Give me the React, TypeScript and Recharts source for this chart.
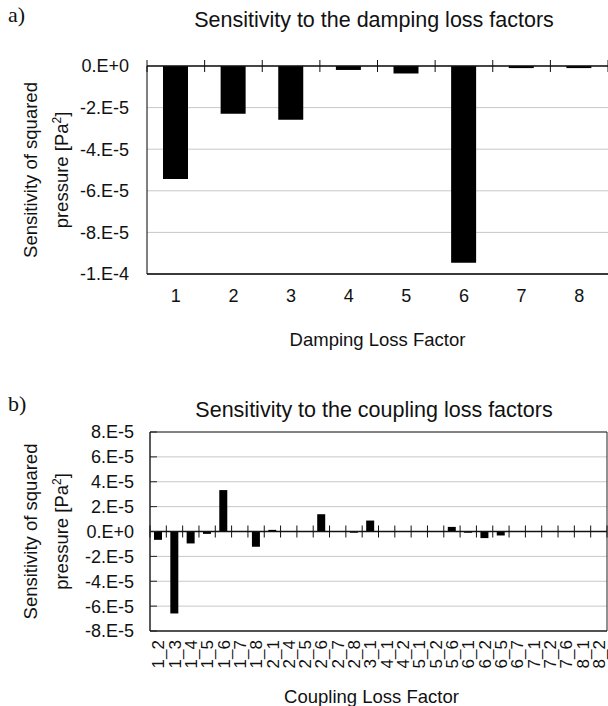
import { Bar, BarChart, CartesianGrid, ReferenceArea, ReferenceLine, XAxis, YAxis } from "recharts";

const FONT = "'Liberation Sans', Arial, sans-serif";
const SERIF = "'Liberation Serif', 'Times New Roman', serif";

// a) damping loss factors
const dampingFactors = ["1", "2", "3", "4", "5", "6", "7", "8"];
const dampingSensitivity = [-5.43e-5, -2.3e-5, -2.59e-5, -0.19e-5, -0.36e-5, -9.46e-5, -0.1e-5, -0.1e-5];
const dampingTicks = [0, -2e-5, -4e-5, -6e-5, -8e-5, -1e-4];

// b) coupling loss factors
const couplingFactors = [
  "1_2", "1_3", "1_4", "1_5", "1_6", "1_7", "1_8",
  "2_1", "2_4", "2_5", "2_6", "2_7", "2_8",
  "3_1", "4_1", "4_2", "5_1", "5_2", "5_6",
  "6_1", "6_2", "6_5", "6_7", "7_1", "7_2", "7_6", "8_1", "8_2",
];
const couplingSensitivity = [
  -0.67e-5, -6.59e-5, -0.96e-5, -0.19e-5, 3.33e-5, 0, -1.23e-5,
  0.13e-5, 0, 0, 1.39e-5, 0, -0.1e-5,
  0.88e-5, 0, 0, 0, 0, 0.37e-5,
  -0.1e-5, -0.53e-5, -0.32e-5, 0, 0, 0, 0, 0, 0,
];
const couplingTicks = [8e-5, 6e-5, 4e-5, 2e-5, 0, -2e-5, -4e-5, -6e-5, -8e-5];

const dampingData = dampingFactors.map((name, i) => ({ name, value: dampingSensitivity[i] }));
const couplingData = couplingFactors.map((name, i) => ({ name, value: couplingSensitivity[i] }));

// excel style "0.E+0"
function sci(v: number) {
  if (v === 0) return "0.E+0";
  const exp = Math.floor(Math.log10(Math.abs(v)) + 1e-9);
  const m = Math.round(v / Math.pow(10, exp));
  return `${m}.E${exp < 0 ? "-" : "+"}${Math.abs(exp)}`;
}

// zero line with tick marks at the category boundaries
const zeroLine = (count: number) => (props: any) => {
  const { x1, x2, y1 } = props;
  const step = (x2 - x1) / count;
  return (
    <g>
      <line x1={x1} x2={x2} y1={y1} y2={y1} stroke="#111" strokeWidth={1.5} />
      {Array.from({ length: count + 1 }, (_, i) => (
        <line key={i} x1={x1 + i * step} x2={x1 + i * step} y1={y1 - 6} y2={y1 + 6} stroke="#111" strokeWidth={1} />
      ))}
    </g>
  );
};

function yTitle(props: any) {
  const { viewBox } = props;
  const cy = viewBox.y + viewBox.height / 2;
  return (
    <g fontFamily={FONT} fontSize={18.5} fill="#111">
      <text x={37} y={cy} transform={`rotate(-90 37 ${cy})`} textAnchor="middle">
        Sensitivity of squared
      </text>
      <text x={68} y={cy} transform={`rotate(-90 68 ${cy})`} textAnchor="middle">
        pressure [Pa<tspan dy={-7} fontSize={12}>2</tspan>
        <tspan dy={7}>]</tspan>
      </text>
    </g>
  );
}

const xTitle = (text: string, dy: number, dx = 0) => (props: any) => {
  const { viewBox } = props;
  return (
    <text
      x={viewBox.x + viewBox.width / 2 + dx}
      y={viewBox.y + dy}
      textAnchor="middle"
      fontFamily={FONT}
      fontSize={18.5}
      fill="#111"
    >
      {text}
    </text>
  );
};

function RotatedTick(props: any) {
  const { x, y, payload } = props;
  return (
    <text
      x={x}
      y={y}
      transform={`rotate(-90 ${x} ${y})`}
      textAnchor="end"
      dy="0.36em"
      fontFamily={FONT}
      fontSize={17}
      fill="#111"
    >
      {payload.value}
    </text>
  );
}

export default function App() {
  return (
    <div style={{ position: "absolute", left: 0, top: 0, width: 608, height: 706, background: "#fff" }}>
      <svg width={608} height={706} style={{ position: "absolute", left: 0, top: 0 }}>
        <text x={8} y={22} fontFamily={SERIF} fontSize={22} fill="#111">a)</text>
        <text x={374} y={27} textAnchor="middle" fontFamily={FONT} fontSize={21.5} fill="#111">
          Sensitivity to the damping loss factors
        </text>
        <text x={8} y={411} fontFamily={SERIF} fontSize={22} fill="#111">b)</text>
        <text x={374} y={417} textAnchor="middle" fontFamily={FONT} fontSize={21.5} fill="#111">
          Sensitivity to the coupling loss factors
        </text>
      </svg>

      <div style={{ position: "absolute", left: 0, top: 0 }}>
        <BarChart width={608} height={360} data={dampingData} margin={{ top: 66, right: 0, bottom: 0, left: 0 }}>
          <CartesianGrid vertical={false} stroke="#c8c8c8" />
          <XAxis
            dataKey="name"
            height={86}
            tickLine={false}
            tickSize={0}
            tickMargin={15}
            axisLine={{ stroke: "#000", strokeWidth: 1.5 }}
            tick={{ fontSize: 18, fill: "#111", fontFamily: FONT }}
            label={xTitle("Damping Loss Factor", 72)}
          />
          <YAxis
            width={147}
            domain={[-1e-4, 0]}
            ticks={dampingTicks}
            interval={0}
            tickFormatter={sci}
            tickLine={false}
            tickSize={0}
            tickMargin={18}
            axisLine={{ stroke: "#000" }}
            tick={{ fontSize: 18, fill: "#111", fontFamily: FONT }}
            label={yTitle}
          />
          <Bar dataKey="value" fill="#000" barSize={25} isAnimationActive={false} />
          <ReferenceLine y={0} shape={zeroLine(dampingFactors.length)} />
        </BarChart>
      </div>

      <div style={{ position: "absolute", left: 0, top: 360 }}>
        <BarChart width={608} height={346} data={couplingData} margin={{ top: 72, right: 1, bottom: 0, left: 0 }}>
          <CartesianGrid vertical={false} stroke="#c8c8c8" />
          <XAxis
            dataKey="name"
            height={75}
            interval={0}
            tickLine={false}
            tickSize={0}
            tickMargin={9}
            axisLine={{ stroke: "#222" }}
            tick={<RotatedTick />}
            label={xTitle("Coupling Loss Factor", 72, -7)}
          />
          <YAxis
            width={150}
            domain={[-8e-5, 8e-5]}
            ticks={couplingTicks}
            interval={0}
            tickFormatter={sci}
            tickSize={-7}
            tickMargin={23}
            tickLine={{ stroke: "#222" }}
            axisLine={{ stroke: "#222" }}
            tick={{ fontSize: 18, fill: "#111", fontFamily: FONT }}
            label={yTitle}
          />
          <ReferenceArea y1={-8e-5} y2={8e-5} fill="none" stroke="#222" strokeWidth={1} />
          <Bar dataKey="value" fill="#000" barSize={8} isAnimationActive={false} />
          <ReferenceLine y={0} shape={zeroLine(couplingFactors.length)} />
        </BarChart>
      </div>
    </div>
  );
}
